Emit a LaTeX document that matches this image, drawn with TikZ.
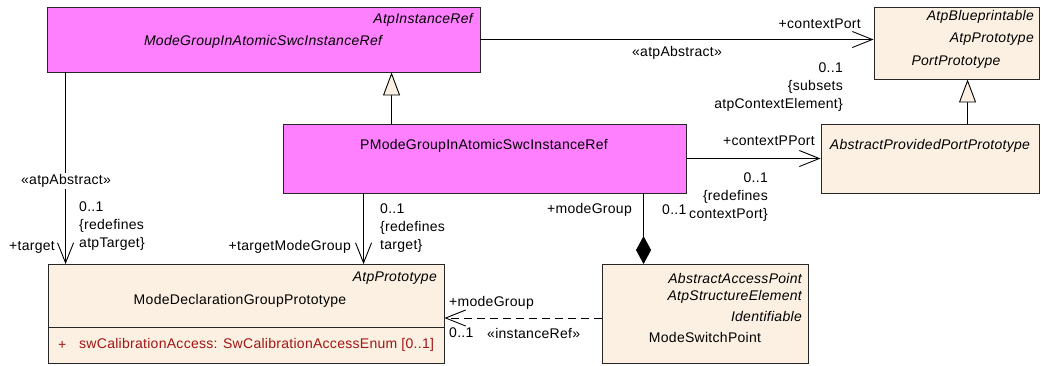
\documentclass[tikz,border=0pt]{standalone}
\usepackage{fontspec}
\setmainfont{Liberation Sans}[LetterSpace=2]
\usetikzlibrary{arrows.meta, positioning, calc}
\definecolor{umlmagenta}{HTML}{FF80FF}
\definecolor{umlcream}{HTML}{FBF0E1}
\definecolor{attrred}{HTML}{A31515}
\newcommand\namefont{\fontsize{14}{17}\selectfont}
\newcommand\lblfont{\fontsize{14}{18}\selectfont}

\begin{document}
\begin{tikzpicture}[
  x=1pt, y=-1pt,
  classbox/.style={rectangle, draw=black!85, line width=0.9pt, inner sep=0pt},
  refbox/.style={classbox, fill=umlmagenta},
  protobox/.style={classbox, fill=umlcream},
  cname/.style={font=\namefont, inner sep=0pt},
  stereo/.style={font=\namefont\itshape, inner sep=0pt},
  attr/.style={font=\namefont, text=attrred, inner sep=0pt},
  lbl/.style={font=\lblfont, inner sep=0pt, align=#1},
  lbl/.default=left,
  assoc/.style={-{Straight Barb[length=20pt, width=16pt, line width=0.9pt]}, line width=0.9pt},
  general/.style={-{Triangle[length=23pt, width=17pt, fill=umlcream, line width=0.9pt]}, line width=0.9pt},
  compos/.style={{Diamond[length=28pt, width=15pt]}-, line width=0.9pt},
  dep/.style={assoc, dash pattern=on 8pt off 5pt}
]
\useasboundingbox (0,0) rectangle (1041,365);

% === Classes ===
\node[refbox, minimum width=433pt, minimum height=65pt]   (mgRef)    at (263.5,39.5) {};
\node[refbox, minimum width=403pt, minimum height=69pt]   (pmgRef)   at (484.5,158.5) {};
\node[protobox, minimum width=165pt, minimum height=72pt] (portProto) at (956.5,43) {};
\node[protobox, minimum width=218pt, minimum height=69pt] (absProv)  at (930,158.5) {};
\node[protobox, minimum width=396pt, minimum height=99pt] (mdgProto) at (246,314) {};
\node[protobox, minimum width=206pt, minimum height=99pt] (msPoint)  at (705,314) {};
\coordinate (sepY) at (0,327);
\draw[line width=0.9pt, black!85] (mdgProto.west |- sepY) -- (mdgProto.east |- sepY);

% === Class texts ===
\node[stereo, anchor=east] (mgRefSt)   at (473,20)  {AtpInstanceRef};
\node[stereo]              (mgRefName) at (263,42)  {ModeGroupInAtomicSwcInstanceRef};
\node[cname]               (pmgRefName) at (484,146) {PModeGroupInAtomicSwcInstanceRef};
\node[stereo, anchor=east] (portSt1)   at (1034,17) {AtpBlueprintable};
\node[stereo, anchor=east] (portSt2)   at (1034,39) {AtpPrototype};
\node[stereo]              (portName)  at (956,62)  {PortPrototype};
\node[stereo]              (absProvName) at (930,146) {AbstractProvidedPortPrototype};
\node[stereo, anchor=east] (mdgSt)     at (437,278) {AtpPrototype};
\node[cname]               (mdgName)   at (240,301) {ModeDeclarationGroupPrototype};
\node[attr, anchor=west]   (mdgVis)    at (58,345)  {+};
\node[attr, anchor=west]   (mdgAttr)   at (79,345)  {swCalibrationAccess: SwCalibrationAccessEnum [0..1]};
\node[stereo, anchor=east] (mspSt1)    at (802,278) {AbstractAccessPoint};
\node[stereo, anchor=east] (mspSt2)    at (802,297) {AtpStructureElement};
\node[stereo, anchor=east] (mspSt3)    at (802,316) {Identifiable};
\node[cname]               (mspName)   at (705,337) {ModeSwitchPoint};

% === Generalizations ===
\draw[general] ([xshift=109pt]pmgRef.north west) -- ([xshift=109pt]pmgRef.north west |- mgRef.south);
\draw[general] ([xshift=147pt]absProv.north west) -- ([xshift=147pt]absProv.north west |- portProto.south);

% === Associations ===
\draw[assoc] (mgRef.east) -- (mgRef.east -| portProto.west);
\node[lbl, anchor=east]          (cpRole)   at (861,24)  {+contextPort};
\node[lbl]                       (cpStereo) at (677,53)  {«atpAbstract»};
\node[lbl=right, anchor=north east] (cpMult) at (843,63) {0..1\\\{subsets\\atpContextElement\}};

\draw[assoc] ([xshift=19pt]mgRef.south west) -- ([xshift=19pt]mgRef.south west |- mdgProto.north);
\node[lbl, fill=white, inner sep=1pt] (tgStereo) at (66,181) {«atpAbstract»};
\node[lbl, anchor=north west]    (tgMult)   at (79,202)  {0..1\\\{redefines\\atpTarget\}};
\node[lbl, anchor=east]          (tgRole)   at (55,247)  {+target};

\draw[assoc] ([xshift=81pt]pmgRef.south west) -- ([xshift=81pt]pmgRef.south west |- mdgProto.north);
\node[lbl, anchor=north west]    (tmgMult)  at (380,204) {0..1\\\{redefines\\target\}};
\node[lbl, anchor=east]          (tmgRole)  at (351,247) {+targetModeGroup};

\draw[assoc] (pmgRef.east) -- (pmgRef.east -| absProv.west);
\node[lbl, anchor=east]          (cppRole)  at (815,141) {+contextPPort};
\node[lbl=right, anchor=north east] (cppMult) at (768,173) {0..1\\\{redefines\\contextPort\}};

% === Composition and instance reference ===
\draw[compos] ([xshift=42pt]msPoint.north west) -- ([xshift=42pt]msPoint.north west |- pmgRef.south);
\node[lbl, anchor=east]          (mgRole)   at (632,210) {+modeGroup};
\node[lbl, anchor=west]          (mgMult)   at (662,210) {0..1};

\draw[dep] ([yshift=-4pt]msPoint.west) -- ([yshift=-4pt]msPoint.west -| mdgProto.east);
\node[lbl, anchor=west]          (irRole)   at (449,303) {+modeGroup};
\node[lbl, anchor=west]          (irMult)   at (449,333) {0..1};
\node[lbl, anchor=west]          (irStereo) at (487,333) {«instanceRef»};

\end{tikzpicture}
\end{document}
